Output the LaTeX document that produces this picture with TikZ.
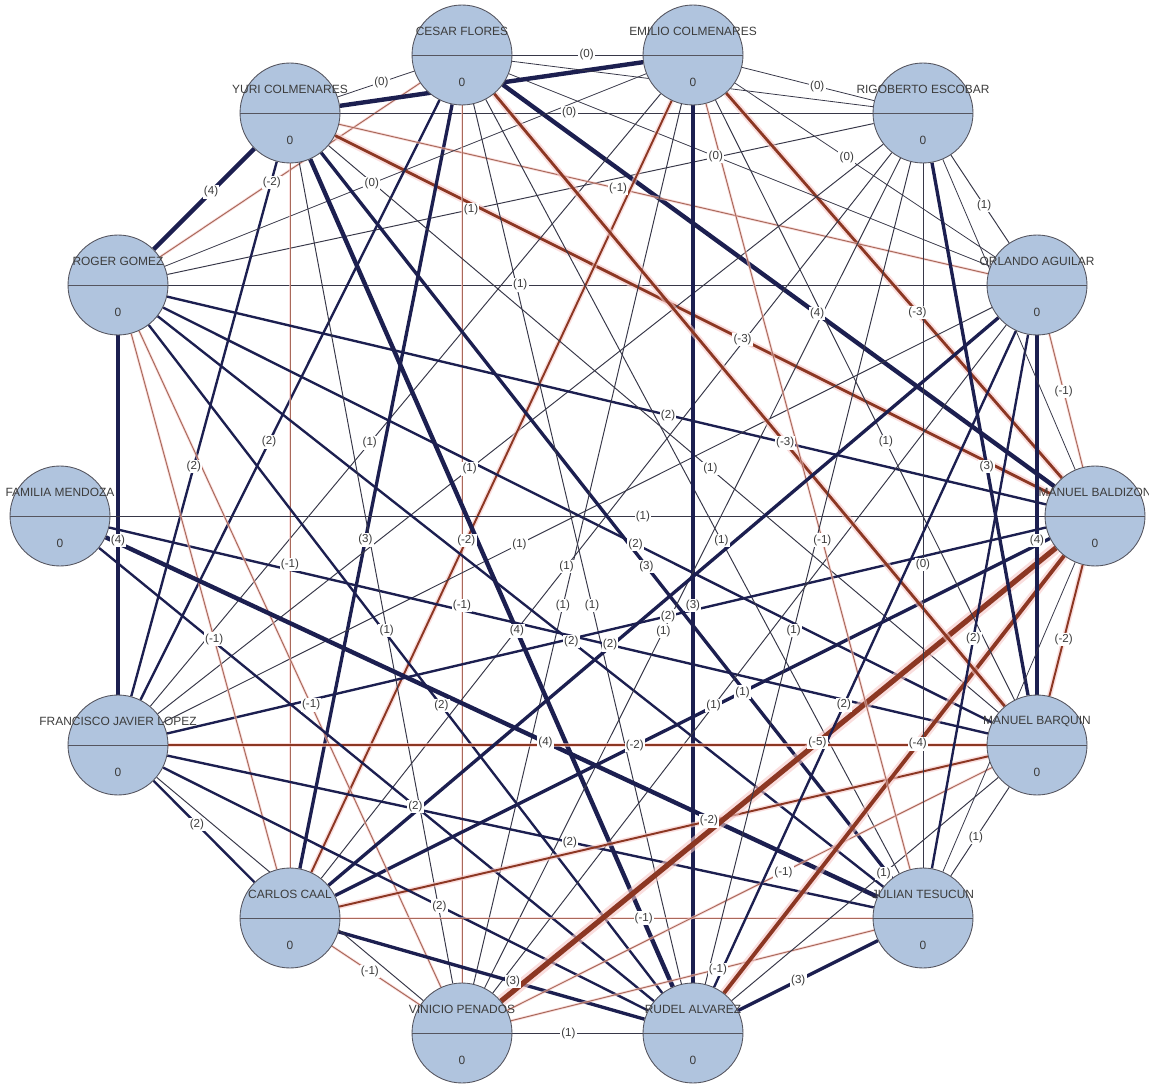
\documentclass[tikz,border=0pt]{standalone}
\usepackage{fontspec}
\setmainfont{Liberation Sans}

\definecolor{nodefill}{RGB}{176,196,222}
\definecolor{nodeline}{RGB}{85,85,95}
\definecolor{tiecol}{RGB}{28,31,80}
\definecolor{thincol}{RGB}{55,55,72}
\definecolor{negcol}{RGB}{140,55,35}
\definecolor{halocol}{RGB}{246,200,200}
\definecolor{txtcol}{RGB}{60,60,60}

\pgfdeclarelayer{ties}
\pgfdeclarelayer{tielabels}
\pgfsetlayers{ties,tielabels,main}

\tikzset{
  person/.style={circle, draw=nodeline, line width=0.5pt, fill=nodefill, minimum size=2cm, inner sep=0pt},
  pname/.style={font=\fontsize{6.8}{8}\selectfont, text=txtcol, inner sep=0pt},
  tielabel/.style={font=\fontsize{6.6}{8}\selectfont, text=txtcol, fill=white, inner sep=0.7pt, pos=.57},
  wt0/.style={thincol, line width=0.45pt},
  wt1/.style={thincol, line width=0.55pt},
  wt2/.style={tiecol, line width=1.35pt},
  wt3/.style={tiecol, line width=1.9pt},
  wt4/.style={tiecol, line width=2.5pt},
  wt-1/.style={negcol!75, line width=0.55pt, preaction={draw=halocol, draw opacity=.6, line width=1.5pt}},
  wt-2/.style={negcol, line width=1.1pt, preaction={draw=halocol, draw opacity=.6, line width=2.8pt}},
  wt-3/.style={negcol, line width=1.6pt, preaction={draw=halocol, draw opacity=.6, line width=3.8pt}},
  wt-4/.style={negcol, line width=2.2pt, preaction={draw=halocol, draw opacity=.6, line width=5pt}},
  wt-5/.style={negcol, line width=3pt, preaction={draw=halocol, draw opacity=.6, line width=6.5pt}},
}

% one actor: circle, divider, name and score
\newcommand{\persona}[3]{%
  \node[person] (#1) at (#2) {};
  \draw[nodeline, line width=0.5pt] (#1.west) -- (#1.east);
  \node[pname] at ([yshift=0.47cm]#1.center) {#3};
  \node[pname] at ([yshift=-0.55cm]#1.center) {0};
}

% source/target/value/style
\def\tielist{cf/ec/0/wt0, yc/cf/0/wt0, cf/rg/-2/wt-1, rg/yc/4/wt4, re/yc/0/wt0,
  re/rg/1/wt1, oa/rg/1/wt1, yc/bd/-3/wt-3, ec/re/0/wt0, oa/ec/0/wt0, re/oa/1/wt1,
  cf/bd/4/wt4, ec/bd/-3/wt-3, yc/fj/2/wt2, cf/fj/2/wt2, ec/fj/1/wt1, rg/fj/4/wt4,
  cf/cc/3/wt3, oa/yc/-1/wt-1, ec/rg/0/wt0, oa/cf/0/wt0, yc/cc/-1/wt-1, cf/vp/-1/wt-1,
  re/fj/1/wt1, ec/cc/-2/wt-2, rg/bd/2/wt2, yc/bq/1/wt1, fm/bd/1/wt1, oa/fj/1/wt1,
  rg/bq/2/wt2, cf/jt/1/wt1, re/cc/1/wt1, yc/jt/3/wt3, ec/vp/1/wt1, cf/ra/1/wt1,
  fj/bd/2/wt2, ec/ra/3/wt3, yc/ra/4/wt4, rg/jt/2/wt2, fm/bq/2/wt2, re/vp/1/wt1,
  yc/vp/1/wt1, rg/ra/2/wt2, oa/vp/1/wt1, cc/bd/1/wt3, rg/cc/-1/wt-1, rg/vp/-1/wt-1,
  cc/fj/2/wt2, vp/cc/-1/wt-1, fm/jt/4/wt4, fj/bq/-2/wt-2, fm/ra/2/wt2, fj/jt/2/wt2,
  cc/bq/-2/wt-2, fj/ra/2/wt2, cc/jt/-1/wt-1, cc/ra/3/wt3, vp/jt/-1/wt-1, ra/vp/1/wt1,
  vp/bq/-1/wt-1, vp/bd/-5/wt-5, ra/bd/-4/wt-4, bq/jt/1/wt1, ra/bq/1/wt1, jt/ra/3/wt3,
  bd/oa/-1/wt-1, cf/bq/-3/wt-3, re/bq/3/wt3, oa/bq/4/wt4, re/jt/0/wt0, ec/jt/-1/wt-1,
  ec/bq/1/wt1, re/ra/1/wt1, oa/jt/2/wt2, bd/bq/-2/wt-2, oa/ra/2/wt2,
  ec/yc/3/wt4, re/cf/0/wt0, fj/vp/0/wt1, bd/re/0/wt0, bd/jt/0/wt0}

\begin{document}
\begin{tikzpicture}[x=0.02cm, y=-0.02cm]
\useasboundingbox (0,0) rectangle (1149,1087);

\persona{cf}{462,55}{CESAR FLORES}
\persona{ec}{693,55}{EMILIO COLMENARES}
\persona{re}{923,113}{RIGOBERTO ESCOBAR}
\persona{oa}{1037,285}{ORLANDO AGUILAR}
\persona{bd}{1095,516}{MANUEL BALDIZON}
\persona{bq}{1037,745}{MANUEL BARQUIN}
\persona{jt}{923,918}{JULIAN TESUCUN}
\persona{ra}{693,1033}{RUDEL ALVAREZ}
\persona{vp}{462,1033}{VINICIO PENADOS}
\persona{cc}{290,918}{CARLOS CAAL}
\persona{fj}{118,745}{FRANCISCO JAVIER LOPEZ}
\persona{fm}{60,516}{FAMILIA MENDOZA}
\persona{rg}{118,285}{ROGER GOMEZ}
\persona{yc}{290,113}{YURI COLMENARES}

\begin{pgfonlayer}{ties}
\foreach \src/\dst/\val/\sty in \tielist
  \draw[\sty] (\src) -- (\dst);
\draw[wt3] (oa) -- (cc);
\end{pgfonlayer}

\begin{pgfonlayer}{tielabels}
\foreach \src/\dst/\val/\sty in \tielist
  \path (\src) -- node[tielabel] {(\val)} (\dst);
\end{pgfonlayer}

\end{tikzpicture}
\end{document}
